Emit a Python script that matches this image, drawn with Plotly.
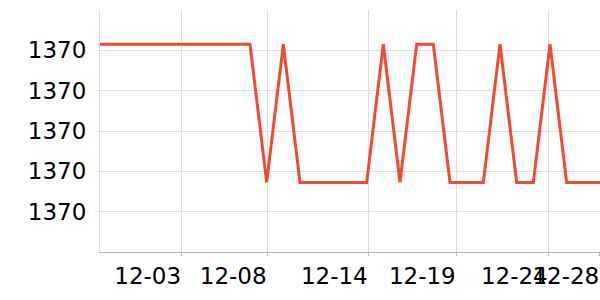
import plotly.graph_objects as go

# data
idx = list(range(31))
H, L = 1370.43, 1369.745
values = [H]*10 + [L, H, L, L, L, L, L, H, L, H, H, L, L, L, H, L, L, H, L, L, L]

x_tick_pos = [4.9, 10.03, 16.1, 21.38, 26.9, 29.99]
x_tick_text = ["12-03", "12-08", "12-14", "12-19", "12-24", "12-28"]
y_ticks = [1369.6, 1369.8, 1370.0, 1370.2, 1370.4]

fig = go.Figure()
fig.add_trace(go.Scatter(x=idx, y=values, mode="lines",
                         line=dict(color="#ef4b2e", width=3), hoverinfo="skip",
                         cliponaxis=False))

font = dict(family="DejaVu Sans", size=23, color="#000")
fig.update_layout(
    width=600, height=300,
    margin=dict(l=100, r=0, t=10, b=48),
    paper_bgcolor="white", plot_bgcolor="white",
    showlegend=False,
    font=font,
)
fig.update_xaxes(range=[0, 30], tickvals=x_tick_pos, ticktext=x_tick_text,
                 tickangle=0, automargin=False,
                 showgrid=True, gridcolor="#dddddd", gridwidth=1,
                 showline=True, linecolor="#bbbbbb", linewidth=1,
                 ticks="outside", ticklen=3, tickcolor="#bbbbbb",
                 ticklabelshift=-34, zeroline=False, tickfont=font)
fig.update_yaxes(range=[1369.4, 1370.6], tickvals=y_ticks, tickformat=".0f",
                 automargin=False, ticklabelstandoff=6,
                 showgrid=True, gridcolor="#dddddd", gridwidth=1,
                 showline=True, linecolor="#dddddd", linewidth=1,
                 ticks="outside", ticklen=2, tickcolor="#dddddd",
                 zeroline=False, tickfont=font)

fig.write_html("out.html")
